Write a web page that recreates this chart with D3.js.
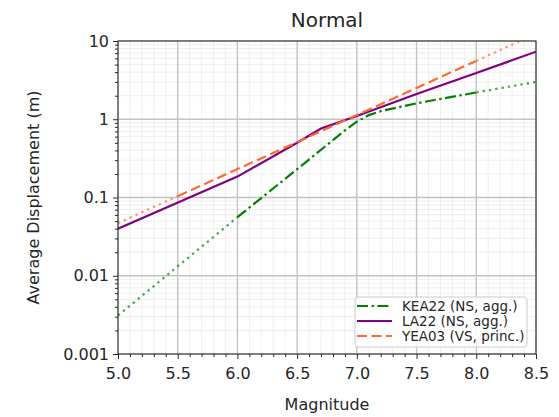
<!DOCTYPE html>
<html>
<head>
<meta charset="utf-8">
<script src="https://cdn.jsdelivr.net/npm/d3@7"></script>
<style>
  body { margin: 0; background: #fff; }
  text { font-family: "DejaVu Sans", sans-serif; fill: #262626; }
</style>
</head>
<body>
<div id="viz"></div>
<script>
// chart values
var xMajor = [5.0, 5.5, 6.0, 6.5, 7.0, 7.5, 8.0, 8.5];
var yMajor = [0.001, 0.01, 0.1, 1, 10];
var yLabels = ["0.001", "0.01", "0.1", "1", "10"];

var keaMag = [5.0, 6.0, 6.5, 6.9, 7.0, 7.1, 7.2, 7.5, 8.0, 8.5];
var keaDisp = [0.0031, 0.056, 0.23, 0.72, 0.93, 1.13, 1.27, 1.6, 2.2, 3.0];
var keaRange = [6.0, 8.0];

var laMag = [5.0, 6.0, 6.5, 6.7, 7.0, 7.5, 8.0, 8.5];
var laDisp = [0.04, 0.185, 0.5, 0.76, 1.1, 2.1, 3.9, 7.3];
var laRange = [5.0, 8.5];

var yeaMag = [5.0, 5.5, 8.0, 8.5];
var yeaDisp = [0.047, 0.104, 5.57, 12.4];
var yeaRange = [5.5, 8.0];

var seriesNames = ["KEA22 (NS, agg.)", "LA22 (NS, agg.)", "YEA03 (VS, princ.)"];

var width = 559, height = 417;
var margin = { top: 41, right: 23, bottom: 63, left: 118 };
var w = width - margin.left - margin.right,
  h = height - margin.top - margin.bottom;

var xScale = d3.scaleLinear().domain([5, 8.5]).range([0, w]);
var yScale = d3.scaleLog().domain([0.001, 10]).range([h, 0]);

var svg = d3.select("#viz").append("svg")
  .attr("width", width).attr("height", height);

var g = svg.append("g")
  .attr("transform", "translate(" + margin.left + "," + margin.top + ")");

svg.append("defs").append("clipPath").attr("id", "clip")
  .append("rect").attr("width", w).attr("height", h);

// minor ticks
var xMinor = d3.range(50, 86).map(function (d) { return d / 10; })
  .filter(function (d) { return xMajor.indexOf(d) < 0; });
var yMinor = yScale.ticks().filter(function (d) { return yMajor.indexOf(d) < 0; });

// grid lines, minor first
g.append("g").selectAll("line").data(xMinor).enter().append("line")
  .attr("x1", d => xScale(d)).attr("x2", d => xScale(d))
  .attr("y1", 0).attr("y2", h)
  .attr("stroke", "#ebebeb").attr("stroke-width", 0.8);
g.append("g").selectAll("line").data(yMinor).enter().append("line")
  .attr("y1", d => yScale(d)).attr("y2", d => yScale(d))
  .attr("x1", 0).attr("x2", w)
  .attr("stroke", "#ebebeb").attr("stroke-width", 0.8);
g.append("g").selectAll("line").data(xMajor).enter().append("line")
  .attr("x1", d => xScale(d)).attr("x2", d => xScale(d))
  .attr("y1", 0).attr("y2", h)
  .attr("stroke", "#c4c4c4").attr("stroke-width", 1.4);
g.append("g").selectAll("line").data(yMajor).enter().append("line")
  .attr("y1", d => yScale(d)).attr("y2", d => yScale(d))
  .attr("x1", 0).attr("x2", w)
  .attr("stroke", "#c4c4c4").attr("stroke-width", 1.4);

// lines
var line = d3.line()
  .x(function (d) { return xScale(d[0]); })
  .y(function (d) { return yScale(d[1]); });

function drawSeries(mags, disps, range, color, dash) {
  var pts = mags.map(function (m, i) { return [m, disps[i]]; });
  var left = pts.filter(function (p) { return p[0] <= range[0]; });
  var mid = pts.filter(function (p) { return p[0] >= range[0] && p[0] <= range[1]; });
  var right = pts.filter(function (p) { return p[0] >= range[1]; });
  var lines = g.append("g").attr("clip-path", "url(#clip)");
  [left, right].forEach(function (seg) {
    if (seg.length < 2) return;
    lines.append("path").attr("d", line(seg))
      .attr("fill", "none").attr("stroke", color)
      .attr("stroke-width", 2.2).attr("stroke-opacity", 0.7)
      .attr("stroke-dasharray", "2.4,4");
  });
  lines.append("path").attr("d", line(mid))
    .attr("fill", "none").attr("stroke", color)
    .attr("stroke-width", 2.2)
    .attr("stroke-dasharray", dash);
}

var colors = ["#008000", "#800080", "#ff6a2e"];
var dashes = ["11,3.5,2.4,3.5", null, "10,4.5"];

drawSeries(keaMag, keaDisp, keaRange, colors[0], dashes[0]);
drawSeries(laMag, laDisp, laRange, colors[1], dashes[1]);
drawSeries(yeaMag, yeaDisp, yeaRange, colors[2], dashes[2]);

// axes
g.append("g").attr("transform", "translate(0," + h + ")")
  .call(d3.axisBottom(xScale).tickValues(xMajor).tickFormat(d3.format(".1f"))
    .tickSize(5).tickPadding(9));
g.append("g").attr("transform", "translate(0," + h + ")")
  .call(d3.axisBottom(xScale).tickValues(xMinor).tickFormat("").tickSize(3));
g.append("g")
  .call(d3.axisLeft(yScale).tickValues(yMajor)
    .tickFormat(function (d, i) { return yLabels[i]; })
    .tickSize(5).tickPadding(4));
g.append("g")
  .call(d3.axisLeft(yScale).tickValues(yMinor).tickFormat("").tickSize(3));

g.selectAll(".domain").remove();
g.selectAll(".tick line").attr("stroke", "#262626").attr("stroke-width", 1);
g.selectAll(".tick text").style("font-size", "16px").attr("fill", "#262626");

// frame
g.append("rect").attr("width", w).attr("height", h)
  .attr("fill", "none").attr("stroke", "#262626").attr("stroke-width", 1);

// title and labels
svg.append("text").attr("x", margin.left + w / 2).attr("y", 27)
  .attr("text-anchor", "middle").style("font-size", "20px").text("Normal");
svg.append("text").attr("x", margin.left + w / 2).attr("y", 410)
  .attr("text-anchor", "middle").style("font-size", "16px").text("Magnitude");
svg.append("text")
  .attr("transform", "translate(39," + (margin.top + h / 2) + ") rotate(-90)")
  .attr("text-anchor", "middle").style("font-size", "16px")
  .text("Average Displacement (m)");

// legend
var legend = svg.append("g").attr("transform", "translate(355,297)");
legend.append("rect").attr("width", 172).attr("height", 50).attr("rx", 3)
  .attr("fill", "#fff").attr("fill-opacity", 0.85)
  .attr("stroke", "#cccccc").attr("stroke-width", 1);
seriesNames.forEach(function (name, i) {
  var yy = 9 + i * 15;
  legend.append("line").attr("x1", 2).attr("x2", 37)
    .attr("y1", yy).attr("y2", yy)
    .attr("stroke", colors[i]).attr("stroke-width", 2.2)
    .attr("stroke-dasharray", dashes[i]);
  legend.append("text").attr("x", 47).attr("y", yy + 4.5)
    .style("font-size", "13.5px").text(name);
});
</script>
</body>
</html>
